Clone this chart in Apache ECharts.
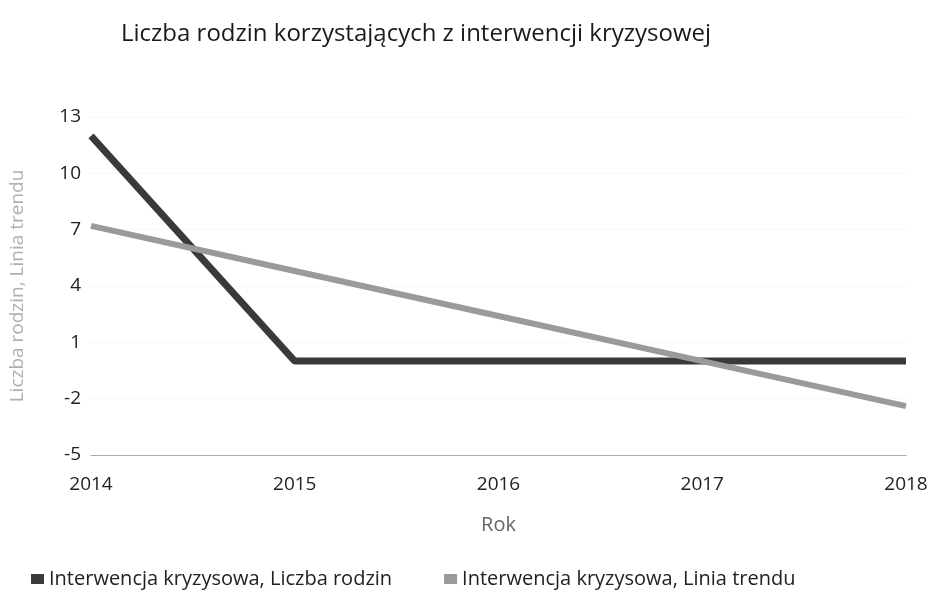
<!DOCTYPE html>
<html><head><meta charset="utf-8">
<script src="https://cdn.jsdelivr.net/npm/echarts@6/dist/echarts.min.js"></script>
<style>html,body{margin:0;padding:0;background:#fff}#c{width:934px;height:590px}</style>
</head><body><div id="c"></div>
<script>
const categories = ['2014','2015','2016','2017','2018'];
const liczbaRodzin = [12, 0, 0, 0, 0];
const liniaTrendu = [7.2, 4.8, 2.4, 0, -2.4];
const yTicks = [-5, -2, 1, 4, 7, 10, 13];

const chart = echarts.init(document.getElementById('c'), null, {renderer:'canvas'});
const font = '"Open Sans", "Noto Sans", sans-serif';
chart.setOption({
  animation:false,
  backgroundColor:'#fff',
  title:{text:'Liczba rodzin korzystających z interwencji kryzysowej', left:116, top:17,
    textStyle:{fontFamily:font, fontSize:24, fontWeight:'normal', color:'#1a1a1a'}},
  grid:{left:84, right:28, top:117, bottom:135, containLabel:false},
  legend:{left:26, top:564, itemWidth:13, itemHeight:10, itemGap:52, icon:'rect',
    textStyle:{fontFamily:font, fontSize:20, color:'#222'},
    data:['Interwencja kryzysowa, Liczba rodzin','Interwencja kryzysowa, Linia trendu']},
  xAxis:{type:'category', data:categories, boundaryGap:false,
    name:'Rok', nameLocation:'middle', nameGap:60,
    nameTextStyle:{fontFamily:font, fontSize:20, color:'#666'},
    axisLine:{show:true, onZero:false, lineStyle:{type:'dotted', color:'#999', width:1}}, axisTick:{show:false},
    axisLabel:{fontFamily:font, fontSize:19, color:'#222', margin:20}},
  yAxis:{type:'value', min:yTicks[0], max:yTicks[yTicks.length-1], interval:3,
    name:'Liczba rodzin, Linia trendu', nameLocation:'middle', nameGap:64,
    nameTextStyle:{fontFamily:font, fontSize:19, color:'#b0b0b0'},
    axisLine:{show:false}, axisTick:{show:false},
    axisLabel:{fontFamily:font, fontSize:19, color:'#222', margin:10},
    splitLine:{show:true, lineStyle:{type:'dotted', color:'#efefef', width:1}}},
  series:[
    {name:'Interwencja kryzysowa, Liczba rodzin', type:'line', data:liczbaRodzin,
      symbol:'none', lineStyle:{width:7, color:'#3a3a3a'}, itemStyle:{color:'#3a3a3a'}, z:3},
    {name:'Interwencja kryzysowa, Linia trendu', type:'line', data:liniaTrendu,
      symbol:'none', lineStyle:{width:6, color:'#9a9a9a'}, itemStyle:{color:'#9a9a9a'}, z:4}
  ]
});
</script></body></html>
